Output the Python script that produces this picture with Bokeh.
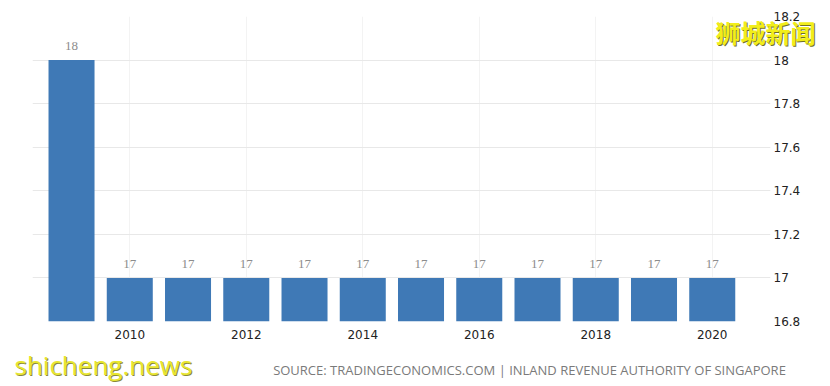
from bokeh.plotting import figure
from bokeh.models import FixedTicker, Range1d, LabelSet, ColumnDataSource, Title, LinearAxis
from bokeh.embed import file_html
from bokeh.resources import INLINE

years = [2009, 2010, 2011, 2012, 2013, 2014, 2015, 2016, 2017, 2018, 2019, 2020]
rates = [18, 17, 17, 17, 17, 17, 17, 17, 17, 17, 17, 17]
value_labels = ["18", "17", "17", "17", "17", "17", "17", "17", "17", "17", "17", "17"]
x_ticks = [2010, 2012, 2014, 2016, 2018, 2020]
y_ticks = [16.8, 17.0, 17.2, 17.4, 17.6, 17.8, 18.0, 18.2]
source_text = "SOURCE: TRADINGECONOMICS.COM | INLAND REVENUE AUTHORITY OF SINGAPORE"
watermark_cn = "狮城新闻"
watermark_en = "shicheng.news"

src = ColumnDataSource(dict(x=years, top=rates, label=value_labels))

p = figure(width=830, height=386, output_backend="svg", toolbar_location=None,
           x_range=Range1d(2008.33, 2021.0), y_range=Range1d(16.8, 18.2),
           y_axis_location="right",
           min_border_left=32, min_border_right=60, min_border_top=16, min_border_bottom=65)
p.outline_line_color = None
p.background_fill_color = "white"

p.vbar(x="x", top="top", bottom=16.8, width=0.79, source=src,
       fill_color="#3f79b6", line_color=None)

p.add_layout(LabelSet(x="x", y="top", text="label", source=src, y_offset=10,
                      text_align="center", text_baseline="bottom",
                      text_color="#8c8c8c", text_font_size="13px",
                      text_font="Open Sans"))

p.xaxis.ticker = FixedTicker(ticks=x_ticks)
p.xaxis.axis_line_color = None
p.xaxis.major_tick_line_color = None
p.xaxis.minor_tick_line_color = None
p.xaxis.major_tick_out = 0
p.xaxis.major_tick_in = 0
p.xaxis.major_label_standoff = 8
p.xaxis.major_label_text_font = "DejaVu Sans"
p.xaxis.major_label_text_font_size = "12px"
p.xaxis.major_label_text_color = "#222222"

p.yaxis.ticker = FixedTicker(ticks=y_ticks)
p.yaxis.axis_line_color = None
p.yaxis.major_tick_line_color = None
p.yaxis.minor_tick_line_color = None
p.yaxis.major_tick_out = 0
p.yaxis.major_tick_in = 0
p.yaxis.major_label_standoff = 3
p.yaxis.major_label_text_font = "DejaVu Sans"
p.yaxis.major_label_text_font_size = "12px"
p.yaxis.major_label_text_color = "#222222"

p.ygrid.ticker = FixedTicker(ticks=y_ticks)
p.ygrid.grid_line_color = "#e8e8e8"
p.xgrid.ticker = FixedTicker(ticks=x_ticks)
p.xgrid.grid_line_color = "#f3f3f3"

# source line, drawn as the label of a secondary bottom axis (pixel-like range across the frame)
p.extra_x_ranges = {"src": Range1d(0, 738)}
src_axis = LinearAxis(x_range_name="src", ticker=FixedTicker(ticks=[497]),
                      major_label_overrides={497: source_text},
                      axis_line_color=None, major_tick_line_color=None,
                      minor_tick_line_color=None, major_tick_out=0, major_tick_in=0,
                      minor_tick_out=0, minor_tick_in=0,
                      major_label_standoff=19, major_label_text_font="Open Sans",
                      major_label_text_font_size="13px", major_label_text_color="#7a7a7a")
p.add_layout(src_axis, "below")

# watermarks
p.add_layout(Title(text=watermark_en, align="left", vertical_align="top",
                   text_font="Open Sans", text_font_size="26px", text_color="#8a8a3a",
                   text_font_style="normal", standoff=-67, offset=-17), "below")
p.add_layout(Title(text=watermark_en, align="left", vertical_align="top",
                   text_font="Open Sans", text_font_size="26px", text_color="#e8e630",
                   text_font_style="normal", standoff=-69, offset=-18), "below")

p.add_layout(Title(text=watermark_cn, align="right", vertical_align="bottom",
                   text_font="Noto Sans CJK SC", text_font_size="25px", text_color="#6f6f28",
                   text_font_style="bold", standoff=-68, offset=-46), "above")
p.add_layout(Title(text=watermark_cn, align="right", vertical_align="bottom",
                   text_font="Noto Sans CJK SC", text_font_size="25px", text_color="#f2ee1a",
                   text_font_style="bold", standoff=-66, offset=-45), "above")

open("out.html", "w").write(file_html(p, INLINE))
